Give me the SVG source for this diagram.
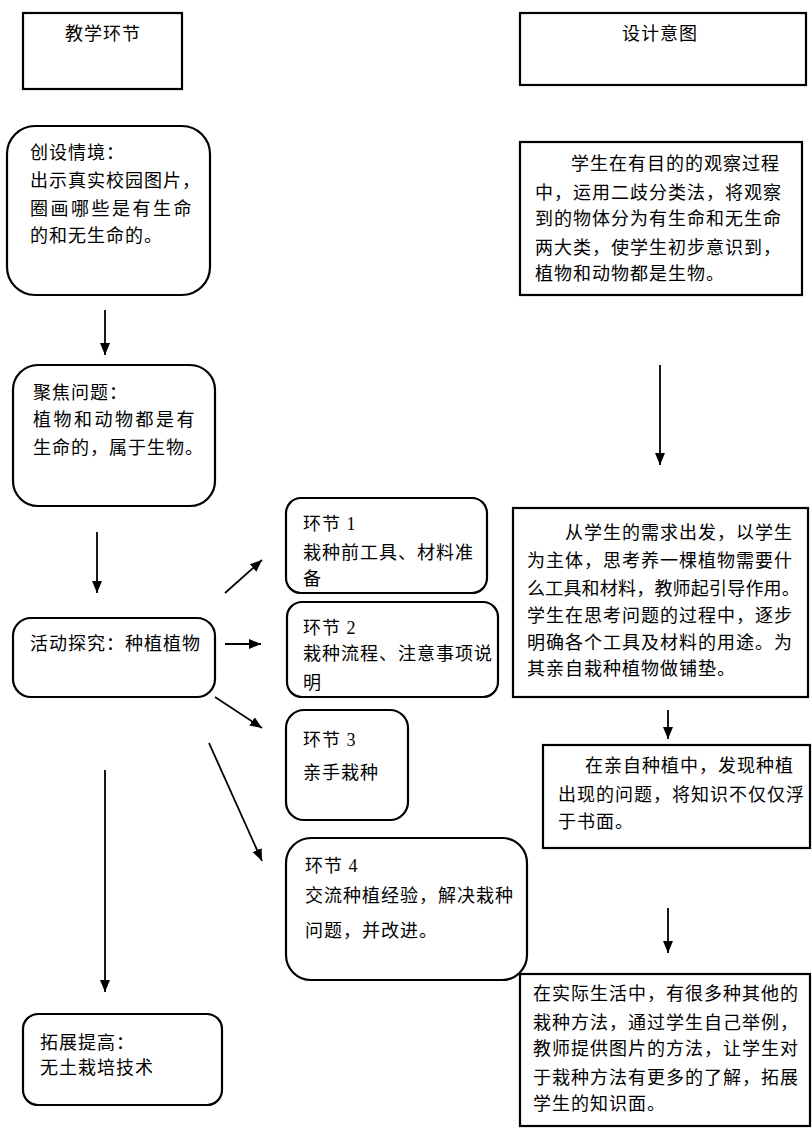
<svg xmlns="http://www.w3.org/2000/svg" width="812" height="1131" viewBox="0 0 812 1131">
<style>
.box{fill:#fff;stroke:#000;stroke-width:2.2}
.t{font-family:"Liberation Serif","Noto Sans CJK SC",serif;font-size:18px;fill:#000;letter-spacing:1px}
.w{letter-spacing:2.5px}
.n{letter-spacing:0.2px}
.c{stroke:#000;stroke-width:1.8;fill:none;marker-end:url(#ah)}
</style>
<defs>
<marker id="ah" markerUnits="userSpaceOnUse" markerWidth="14" markerHeight="12" refX="12" refY="5" orient="auto">
<path d="M0,0 L12,5 L0,10 Z" fill="#000"/>
</marker>
</defs>
<rect width="812" height="1131" fill="#fff"/>
<g id="connectors">
<line class="c" x1="105" y1="310" x2="105" y2="355"/>
<line class="c" x1="97" y1="532" x2="97" y2="593"/>
<line class="c" x1="660" y1="365" x2="660" y2="465"/>
<line class="c" x1="225" y1="593" x2="262" y2="560"/>
<line class="c" x1="225" y1="644" x2="261" y2="644"/>
<line class="c" x1="215" y1="697" x2="262" y2="728"/>
<line class="c" x1="209" y1="743" x2="262" y2="861"/>
<line class="c" x1="105" y1="770" x2="105" y2="992"/>
<line class="c" x1="668" y1="710" x2="668" y2="739"/>
<line class="c" x1="668" y1="908" x2="668" y2="953"/>
</g>
<g id="hdr-left">
<rect class="box" x="23" y="13" width="159" height="76"/>
<text class="t" x="65" y="40">教学环节</text>
</g>
<g id="hdr-right">
<rect class="box" x="520" y="13" width="286" height="72"/>
<text class="t" x="622" y="40">设计意图</text>
</g>
<g id="n-chuangshe">
<rect class="box" x="7" y="126" width="203" height="169" rx="28"/>
<text class="t" x="30" y="159">创设情境：</text>
<text class="t" x="30" y="187">出示真实校园图片，</text>
<text class="t w" x="30" y="215">圈画哪些是有生命</text>
<text class="t" x="30" y="242">的和无生命的。</text>
</g>
<g id="r-1">
<rect class="box" x="520" y="142" width="282" height="153"/>
<text class="t" x="571" y="170">学生在有目的的观察过程</text>
<text class="t" x="535" y="199">中，运用二歧分类法，将观察</text>
<text class="t" x="535" y="225">到的物体分为有生命和无生命</text>
<text class="t" x="535" y="254">两大类，使学生初步意识到，</text>
<text class="t" x="535" y="280">植物和动物都是生物。</text>
</g>
<g id="n-jujiao">
<rect class="box" x="13" y="365" width="202" height="141" rx="25"/>
<text class="t" x="33" y="399">聚焦问题：</text>
<text class="t w" x="33" y="426">植物和动物都是有</text>
<text class="t" x="33" y="454">生命的，属于生物。</text>
</g>
<g id="n-huodong">
<rect class="box" x="13" y="618" width="202" height="79" rx="18"/>
<text class="t" x="30" y="650">活动探究：种植植物</text>
</g>
<g id="n-huanjie1">
<rect class="box" x="286" y="498" width="201" height="95" rx="15"/>
<text class="t" x="303" y="530">环节 1</text>
<text class="t" x="303" y="559">栽种前工具、材料准</text>
<text class="t" x="303" y="585">备</text>
</g>
<g id="n-huanjie2">
<rect class="box" x="287" y="602" width="211" height="95" rx="15"/>
<text class="t" x="303" y="634">环节 2</text>
<text class="t" x="303" y="660">栽种流程、注意事项说</text>
<text class="t" x="303" y="689">明</text>
</g>
<g id="n-huanjie3">
<rect class="box" x="286" y="710" width="122" height="110" rx="18"/>
<text class="t" x="303" y="746">环节 3</text>
<text class="t" x="303" y="779">亲手栽种</text>
</g>
<g id="n-huanjie4">
<rect class="box" x="286" y="838" width="241" height="142" rx="25"/>
<text class="t" x="305" y="872">环节 4</text>
<text class="t" x="305" y="902">交流种植经验，解决栽种</text>
<text class="t" x="305" y="937">问题，并改进。</text>
</g>
<g id="r-2">
<rect class="box" x="513" y="508" width="295" height="189"/>
<text class="t" x="565" y="539">从学生的需求出发，以学生</text>
<text class="t" x="527" y="567">为主体，思考养一棵植物需要什</text>
<text class="t n" x="527" y="595">么工具和材料，教师起引导作用。</text>
<text class="t" x="527" y="622">学生在思考问题的过程中，逐步</text>
<text class="t" x="527" y="649">明确各个工具及材料的用途。为</text>
<text class="t" x="527" y="675">其亲自栽种植物做铺垫。</text>
</g>
<g id="r-3">
<rect class="box" x="543" y="745" width="267" height="103"/>
<text class="t" x="585" y="772">在亲自种植中，发现种植</text>
<text class="t" x="558" y="801">出现的问题，将知识不仅仅浮</text>
<text class="t" x="558" y="828">于书面。</text>
</g>
<g id="r-4">
<rect class="box" x="520" y="974" width="290" height="152"/>
<text class="t" x="533" y="1000">在实际生活中，有很多种其他的</text>
<text class="t" x="533" y="1029">栽种方法，通过学生自己举例，</text>
<text class="t" x="533" y="1055">教师提供图片的方法，让学生对</text>
<text class="t" x="533" y="1084">于栽种方法有更多的了解，拓展</text>
<text class="t" x="533" y="1110">学生的知识面。</text>
</g>
<g id="n-tuozhan">
<rect class="box" x="23" y="1014" width="199" height="91" rx="15"/>
<text class="t" x="40" y="1049">拓展提高：</text>
<text class="t" x="40" y="1074">无土栽培技术</text>
</g>
</svg>
